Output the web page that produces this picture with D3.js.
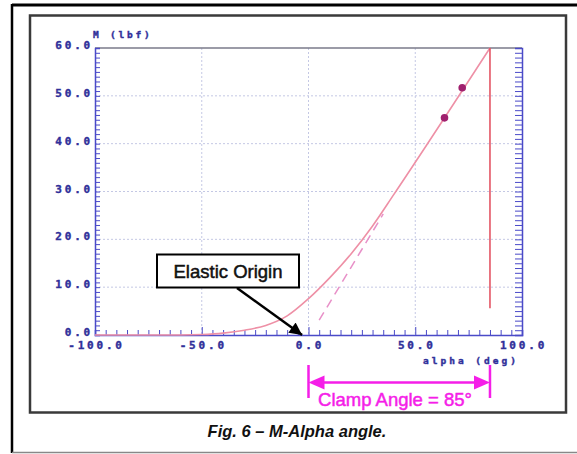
<!DOCTYPE html>
<html><head><meta charset="utf-8">
<script src="https://d3js.org/d3.v7.min.js"></script>
<style>body{margin:0;background:#fff}svg{display:block}</style>
</head><body>
<script>
// ---- data ----
const xTicks = [-100, -50, 0, 50, 100];
const xTickLabels = ["-100.0", "-50.0", "0.0", "50.0", "100.0"];
const yTicks = [0, 10, 20, 30, 40, 50, 60];
const yTickLabels = ["0.0", "10.0", "20.0", "30.0", "40.0", "50.0", "60.0"];
const curveAlpha = [-100, -60, -50, -40, -30, -20, -10, 0, 10, 20, 30, 40, 85];
const curveM     = [0, 0, 0.1, 0.4, 1.0, 2.0, 4.0, 7.6, 12.0, 17.0, 22.8, 29.4, 60];
const elasticAlpha = [5, 35];
const elasticM     = [3.1, 25.3];
const clampAlpha = [85, 85];
const clampM     = [60, 5.6];
const markerAlpha = [63.7, 72];
const markerM     = [45.4, 51.7];
const clampAngle = 85;
const yLabel = "M (lbf)";
const xLabel = "alpha (deg)";
const calloutText = "Elastic Origin";
const clampText = "Clamp Angle = 85°";
const caption = "Fig. 6 \u2013 M-Alpha angle.";

const W = 577, H = 454;
const svg = d3.select("body").append("svg").attr("width", W).attr("height", H);

// frames
svg.append("line").attr("x1",12).attr("x2",W).attr("y1",5).attr("y2",5).attr("stroke","#000").attr("stroke-width",3);
svg.append("line").attr("x1",12).attr("x2",12).attr("y1",4).attr("y2",453).attr("stroke","#000").attr("stroke-width",2.5);
svg.append("line").attr("x1",12).attr("x2",W).attr("y1",452.5).attr("y2",452.5).attr("stroke","#888").attr("stroke-width",1.5);
svg.append("rect").attr("x",30).attr("y",15.5).attr("width",536).attr("height",397).attr("fill","none").attr("stroke","#3a3a3a").attr("stroke-width",2.5);

const x = d3.scaleLinear().domain([-100, 100]).range([95, 522]);
const y = d3.scaleLinear().domain([0, 60]).range([335, 48]);

const axisBlue = "#4a4ac8", labBlue = "#30309a";

// grid
const g = svg.append("g");
g.selectAll(".vg").data([-50, 0, 50]).join("line")
  .attr("x1", d => x(d)).attr("x2", d => x(d)).attr("y1", y(60)).attr("y2", y(0))
  .attr("stroke", "#c4c8e4").attr("stroke-width", 1).attr("stroke-dasharray", "2,2");
g.selectAll(".hg").data([10, 20, 30, 40, 50]).join("line")
  .attr("x1", x(-100)).attr("x2", x(100)).attr("y1", d => y(d)).attr("y2", d => y(d))
  .attr("stroke", "#c4c8e4").attr("stroke-width", 1).attr("stroke-dasharray", "2,2");
// top frame line
svg.append("line").attr("x1", x(-100)).attr("x2", x(100)).attr("y1", y(60)).attr("y2", y(60))
  .attr("stroke", "#7a7a8a").attr("stroke-width", 1.5);

// axes with d3 axis
const minorY = d3.range(0, 61, 1);
const leftAxis = svg.append("g").attr("transform", `translate(${x(-100)},0)`)
  .call(d3.axisRight(y).tickValues(minorY).tickSize(5).tickFormat(""));
leftAxis.selectAll("line").attr("stroke", axisBlue);
leftAxis.select(".domain").attr("stroke", axisBlue).attr("stroke-width", 1.5);
const rightAxis = svg.append("g").attr("transform", `translate(${x(100)},0)`)
  .call(d3.axisLeft(y).tickValues(minorY).tickSize(7).tickFormat(""));
rightAxis.selectAll("line").attr("stroke", axisBlue);
rightAxis.select(".domain").attr("stroke", axisBlue).attr("stroke-width", 1.5);
const bottomAxis = svg.append("g").attr("transform", `translate(0,${y(0)})`)
  .call(d3.axisTop(x).tickValues(d3.range(-100, 101, 5)).tickSize(5).tickFormat(""));
bottomAxis.selectAll("line").attr("stroke", axisBlue);
bottomAxis.select(".domain").attr("stroke", axisBlue).attr("stroke-width", 1.5);
bottomAxis.selectAll(".tick").filter(d => d % 50 === 0).select("line").attr("y2", -8);

// tick labels
const labStyle = s => s.attr("font-family", "DejaVu Sans Mono").attr("font-weight", "bold")
  .attr("font-size", 11).attr("letter-spacing", 2.8).attr("fill", labBlue)
  .attr("stroke", labBlue).attr("stroke-width", 0.4);
svg.append("g").selectAll("text").data(yTicks).join("text")
  .attr("x", 93).attr("y", d => y(d) + 1).attr("text-anchor", "end")
  .text((d, i) => yTickLabels[i]).call(labStyle);
svg.append("g").selectAll("text").data(xTicks).join("text")
  .attr("x", d => x(d) + 1.5).attr("y", 349).attr("text-anchor", "middle")
  .text((d, i) => xTickLabels[i]).call(labStyle);
svg.append("text").attr("x", 93).attr("y", 38).text(yLabel).call(labStyle).attr("font-size", 9.5).attr("letter-spacing", 2.8);
svg.append("text").attr("x", 423).attr("y", 364).text(xLabel).call(labStyle).attr("font-size", 9.5).attr("letter-spacing", 3);

// lines
const line = d3.line().x(d => x(d[0])).y(d => y(d[1]));
svg.append("path").datum(elasticAlpha.map((a, i) => [a, elasticM[i]]))
  .attr("d", line).attr("fill", "none").attr("stroke", "#e890c8").attr("stroke-width", 1.5)
  .attr("stroke-dasharray", "9,6");
svg.append("path").datum(curveAlpha.map((a, i) => [a, curveM[i]]))
  .attr("d", d3.line().x(d => x(d[0])).y(d => y(d[1])).curve(d3.curveMonotoneX))
  .attr("fill", "none").attr("stroke", "#ee90a6").attr("stroke-width", 1.6);
svg.append("path").datum(clampAlpha.map((a, i) => [a, clampM[i]]))
  .attr("d", line).attr("fill", "none").attr("stroke", "#e24a5a").attr("stroke-width", 1.5);
svg.append("g").selectAll("circle").data(markerAlpha).join("circle")
  .attr("cx", d => x(d)).attr("cy", (d, i) => y(markerM[i])).attr("r", 3.8).attr("fill", "#a0206e");

// callout
svg.append("rect").attr("x", 157).attr("y", 254.5).attr("width", 142).attr("height", 33)
  .attr("fill", "#fff").attr("stroke", "#000").attr("stroke-width", 2);
svg.append("text").attr("x", 228).attr("y", 278).attr("text-anchor", "middle")
  .attr("font-family", "Liberation Sans, Arial").attr("font-size", 18.5).attr("fill", "#111")
  .attr("stroke", "#111").attr("stroke-width", 0.5).text(calloutText);
const defs = svg.append("defs");
defs.append("marker").attr("id", "ah").attr("viewBox", "0 0 10 10").attr("refX", 10).attr("refY", 5)
  .attr("markerWidth", 6).attr("markerHeight", 5).attr("markerUnits", "strokeWidth").attr("orient", "auto")
  .append("path").attr("d", "M0,0 L10,5 L0,10 z").attr("fill", "#000");
svg.append("line").attr("x1", 237).attr("y1", 288).attr("x2", x(-3)).attr("y2", y(0))
  .attr("stroke", "#000").attr("stroke-width", 2.5).attr("marker-end", "url(#ah)");

// clamp angle dimension
const mag = "#f51ee8";
[0, clampAngle].forEach(a => {
  svg.append("line").attr("x1", x(a)).attr("x2", x(a)).attr("y1", 365).attr("y2", 398)
    .attr("stroke", mag).attr("stroke-width", 2.5);
});
svg.append("line").attr("x1", x(0) + 10).attr("x2", x(clampAngle) - 10).attr("y1", 382.5).attr("y2", 382.5)
  .attr("stroke", mag).attr("stroke-width", 2.5);
svg.append("path").attr("d", `M${x(0)},382.5 L${x(0)+16},375.5 L${x(0)+16},389.5 Z`).attr("fill", mag);
svg.append("path").attr("d", `M${x(clampAngle)},382.5 L${x(clampAngle)-16},375.5 L${x(clampAngle)-16},389.5 Z`).attr("fill", mag);
svg.append("text").attr("x", 395).attr("y", 406).attr("text-anchor", "middle")
  .attr("font-family", "Liberation Sans, Arial").attr("font-size", 18.5).attr("fill", mag)
  .attr("stroke", mag).attr("stroke-width", 0.5).text(clampText);

// caption
svg.append("text").attr("x", 297).attr("y", 437).attr("text-anchor", "middle")
  .attr("font-family", "Liberation Sans, Arial").attr("font-size", 16.5).attr("font-weight", "bold")
  .attr("font-style", "italic").attr("fill", "#111").text(caption);
</script>
</body></html>
